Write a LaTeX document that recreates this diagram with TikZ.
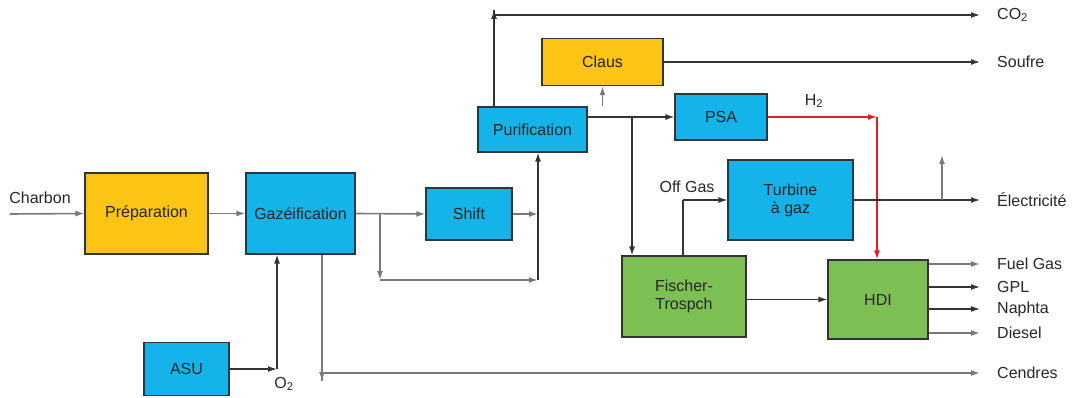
\documentclass[tikz,border=0pt]{standalone}
\usepackage{fontspec}
\setmainfont{Liberation Sans}
\usetikzlibrary{arrows.meta, positioning}
\definecolor{unityellow}{RGB}{252,196,20}
\definecolor{unitblue}{RGB}{20,180,234}
\definecolor{unitgreen}{RGB}{124,192,84}
\definecolor{linegray}{RGB}{120,120,120}
\definecolor{h2red}{RGB}{225,30,40}

\begin{document}
\begin{tikzpicture}[
    x=1pt, y=-1pt,
    font=\fontsize{16}{18}\selectfont,
    >={Latex[length=9pt,width=6pt]},
    unit box/.style={draw=black!80, line width=1.2pt, align=center, inner sep=0pt, text=black!85},
    yellow box/.style={unit box, fill=unityellow},
    blue box/.style={unit box, fill=unitblue},
    green box/.style={unit box, fill=unitgreen},
    flow line/.style={draw=black!80, line width=1.3pt},
    gray line/.style={draw=linegray, line width=1.6pt},
    red line/.style={draw=h2red, line width=1.4pt},
    out label/.style={anchor=west, inner sep=0pt, text=black!85}
]
    \useasboundingbox (0,0) rectangle (1073,398);

    % Units
    \node[yellow box, minimum width=123pt, minimum height=81pt] (prep) at (146.5,213.5) {Préparation};
    \node[blue box, minimum width=109pt, minimum height=81pt] (gaz) at (300.5,213.5) {Gazéification};
    \node[blue box, minimum width=85pt, minimum height=53pt] (asu) at (186.5,369) {ASU};
    \node[blue box, minimum width=86pt, minimum height=52pt] (shift) at (469,214) {Shift};
    \node[blue box, minimum width=109pt, minimum height=45pt] (puri) at (532.5,129.5) {Purification};
    \node[yellow box, minimum width=121pt, minimum height=47pt] (claus) at (602.5,62) {Claus};
    \node[blue box, minimum width=92pt, minimum height=46pt] (psa) at (721,117) {PSA};
    \node[blue box, minimum width=125pt, minimum height=80pt] (turb) at (790.5,200) {Turbine\\à gaz};
    \node[green box, minimum width=124pt, minimum height=81pt] (fisch) at (684,296.5) {Fischer-\\Trospch};
    \node[green box, minimum width=100pt, minimum height=79pt] (hdi) at (878,299.5) {HDI};

    % Points on the lines
    \coordinate (feed) at (10,214);
    \coordinate (o2) at (277,369);
    \coordinate (bypass) at (380,214);
    \coordinate (bypassdown) at (380,280);
    \coordinate (mix) at (538,280);
    \coordinate (mixtop) at (538,214);
    \coordinate (co2up) at (494,15);
    \coordinate (split) at (632,117);
    \coordinate (offgas) at (683,200);
    \coordinate (h2turn) at (877,117);
    \coordinate (ashdown) at (322,373);
    \coordinate (elecup) at (942,200);

    % Output ends
    \coordinate (co2) at (980,15);
    \coordinate (soufre) at (980,62);
    \coordinate (elec) at (980,200);
    \coordinate (fuel) at (980,264);
    \coordinate (gpl) at (980,287);
    \coordinate (naphta) at (980,309);
    \coordinate (diesel) at (980,333);
    \coordinate (cendres) at (980,373);

    % Main line
    \draw[gray line, ->] (feed) -- (prep.west);
    \draw[gray line, ->] (prep.east) -- (gaz.west);
    \draw[gray line, ->] (gaz.east) -- (shift.west);
    \draw[gray line, ->] (bypass) -- (bypassdown);
    \draw[gray line, ->] (bypassdown) -- (mix);
    \draw[flow line, ->] (mix) -- (puri.south -| mix);
    \draw[gray line, ->] (shift.east) -- (mixtop);

    % Oxygen
    \draw[flow line, ->] (asu.east) -- (o2);
    \draw[flow line, ->] (o2) -- (gaz.south -| o2);

    % Ashes
    \draw[gray line, ->] (gaz.south -| ashdown) -- ([yshift=-8pt]ashdown);
    \draw[gray line, ->] ([yshift=-8pt]ashdown) -- (ashdown) -- (cendres);

    % Purification outputs
    \draw[flow line, ->] (puri.north -| co2up) -- ([yshift=5pt]co2up);
    \draw[flow line, ->] ([yshift=5pt]co2up) -- (co2up) -- (co2);
    \draw[gray line, ->] (puri.north -| claus) -- (claus.south);
    \draw[flow line, ->] (claus.east) -- (soufre);
    \draw[flow line, ->] (puri.east |- split) -- (psa.west);
    \draw[flow line, ->] (split) -- (fisch.north -| split);

    % Hydrogen
    \draw[red line, ->] (psa.east) -- (h2turn);
    \draw[red line, ->] (h2turn) -- (hdi.north -| h2turn);

    % Off gas and power
    \draw[flow line] (fisch.north -| offgas) -- (offgas);
    \draw[flow line, ->] (offgas) -- (turb.west |- offgas);
    \draw[flow line, ->] (turb.east) -- (elec);
    \draw[gray line, ->] (elecup) -- ++(0,-45);
    \draw[flow line, ->] (fisch.east |- hdi.west) -- (hdi.west);

    % Products
    \draw[gray line, ->] (hdi.east |- fuel) -- (fuel);
    \draw[flow line, ->] (hdi.east |- gpl) -- (gpl);
    \draw[flow line, ->] (hdi.east |- naphta) -- (naphta);
    \draw[gray line, ->] (hdi.east |- diesel) -- (diesel);

    % Labels
    \node[inner sep=0pt, text=black!85] (charbon) at (40,198) {Charbon};
    \node[inner sep=0pt, text=black!85] (o2label) at (284,384) {O\textsubscript{2}};
    \node[inner sep=0pt, text=black!85] (h2label) at (814,101) {H\textsubscript{2}};
    \node[inner sep=0pt, text=black!85] (offlabel) at (687,187) {Off Gas};
    \node[out label] (co2label) at (997,15) {CO\textsubscript{2}};
    \node[out label] (souflabel) at (997,62) {Soufre};
    \node[out label] (eleclabel) at (997,200) {Électricité};
    \node[out label] (fuellabel) at (997,264) {Fuel Gas};
    \node[out label] (gpllabel) at (997,287) {GPL};
    \node[out label] (naphlabel) at (997,309) {Naphta};
    \node[out label] (diesellabel) at (997,333) {Diesel};
    \node[out label] (cendlabel) at (997,373) {Cendres};
\end{tikzpicture}
\end{document}
